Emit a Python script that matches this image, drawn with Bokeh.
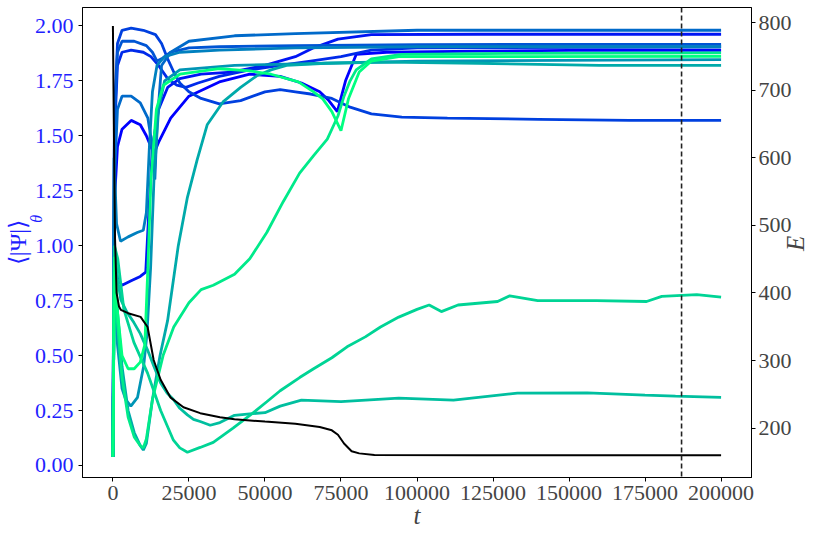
import math
from bokeh.plotting import figure
from bokeh.models import Range1d, LinearAxis, FixedTicker, NumeralTickFormatter, Span
from bokeh.embed import file_html
from bokeh.resources import INLINE

# ---------------- data ----------------
x_ticks = [0, 25000, 50000, 75000, 100000, 125000, 150000, 175000, 200000]
psi_ticks = [0.0, 0.25, 0.5, 0.75, 1.0, 1.25, 1.5, 1.75, 2.0]
e_ticks = [200, 300, 400, 500, 600, 700, 800]
t_marker = 187000

# 13 runs, coloured blue -> green (winter)
t_r0 = [0, 500, 1500, 3000, 6000, 9000, 11000, 12500, 13500, 15000, 19000, 25000, 35000, 45000, 55000, 62000, 68000, 71000, 73800, 76500, 80000, 90000, 120000, 160000, 200000]
psi_r0 = [0.04, 1.20, 1.45, 1.53, 1.57, 1.55, 1.50, 1.45, 1.42, 1.47, 1.58, 1.68, 1.745, 1.78, 1.77, 1.74, 1.70, 1.66, 1.61, 1.75, 1.87, 1.88, 1.885, 1.89, 1.889]

t_r1 = [0, 500, 1500, 3000, 6000, 9000, 10800, 11800, 13000, 15000, 18000, 22000, 29000, 39000, 50000, 60000, 66000, 74000, 85000, 120000, 200000]
psi_r1 = [0.04, 0.95, 0.85, 0.82, 0.84, 0.86, 0.88, 1.15, 1.45, 1.62, 1.72, 1.76, 1.78, 1.79, 1.82, 1.86, 1.90, 1.94, 1.96, 1.962, 1.962]

t_r2 = [0, 500, 1500, 3000, 6000, 10000, 12500, 15000, 18000, 21000, 24000, 28000, 35000, 45000, 55000, 65000, 75000, 85000, 100000, 200000]
psi_r2 = [0.04, 1.50, 1.82, 1.88, 1.89, 1.88, 1.86, 1.82, 1.76, 1.73, 1.72, 1.74, 1.77, 1.80, 1.82, 1.84, 1.86, 1.89, 1.90, 1.904]

t_r3 = [0, 500, 1500, 3000, 6000, 10000, 14000, 16000, 18000, 20000, 22000, 25000, 29000, 35000, 42000, 50000, 55000, 60000, 65000, 72000, 78000, 85000, 95000, 110000, 140000, 170000, 200000]
psi_r3 = [0.04, 1.60, 1.92, 1.98, 1.99, 1.98, 1.96, 1.92, 1.85, 1.79, 1.74, 1.70, 1.67, 1.645, 1.66, 1.70, 1.71, 1.70, 1.69, 1.67, 1.63, 1.60, 1.585, 1.58, 1.575, 1.57, 1.57]

t_r4 = [0, 500, 1500, 3000, 7000, 11000, 13000, 14500, 16000, 19000, 25000, 35000, 60000, 100000, 200000]
psi_r4 = [0.04, 1.55, 1.88, 1.93, 1.93, 1.91, 1.88, 1.84, 1.85, 1.88, 1.90, 1.905, 1.91, 1.915, 1.916]

t_r5 = [0, 500, 1500, 3000, 6000, 9000, 11500, 13000, 13800, 14500, 16000, 19000, 25000, 40000, 60000, 100000, 200000]
psi_r5 = [0.04, 1.30, 1.62, 1.68, 1.68, 1.65, 1.58, 1.45, 1.30, 1.55, 1.82, 1.88, 1.93, 1.955, 1.965, 1.98, 1.98]

t_r6 = [0, 400, 1200, 2500, 5000, 8000, 10000, 11000, 12000, 13000, 14500, 17000, 22000, 35000, 60000, 100000, 200000]
psi_r6 = [0.04, 1.40, 1.10, 1.02, 1.04, 1.06, 1.07, 1.15, 1.45, 1.70, 1.82, 1.86, 1.88, 1.89, 1.90, 1.905, 1.905]

t_r7 = [0, 500, 1500, 3000, 4200, 5900, 8100, 10100, 11200, 12400, 13500, 15000, 17000, 22000, 40000, 70000, 100000, 200000]
psi_r7 = [0.04, 0.95, 0.55, 0.35, 0.30, 0.27, 0.31, 0.45, 0.60, 0.90, 1.30, 1.62, 1.75, 1.80, 1.82, 1.83, 1.84, 1.846]

t_r8 = [0, 500, 1500, 3000, 5000, 7000, 9000, 10000, 11000, 13000, 15500, 18000, 21500, 24500, 27700, 31000, 36200, 42000, 47300, 52000, 57100, 70000, 90000, 120000, 160000, 200000]
psi_r8 = [0.04, 0.95, 0.70, 0.45, 0.25, 0.15, 0.09, 0.07, 0.10, 0.30, 0.50, 0.66, 1.00, 1.22, 1.39, 1.55, 1.654, 1.72, 1.773, 1.80, 1.82, 1.83, 1.835, 1.83, 1.82, 1.82]

t_r9 = [0, 500, 1500, 2600, 4500, 6900, 9000, 11400, 13500, 15700, 17800, 19900, 22000, 24500, 26500, 28700, 32000, 35200, 40000, 45000, 50000, 55000, 62000, 75000, 94000, 112000, 133000, 156000, 175000, 185000, 200000]
psi_r9 = [0.04, 1.00, 0.85, 0.754, 0.70, 0.65, 0.60, 0.525, 0.45, 0.375, 0.33, 0.30, 0.26, 0.23, 0.21, 0.20, 0.183, 0.195, 0.228, 0.235, 0.24, 0.27, 0.297, 0.29, 0.306, 0.297, 0.329, 0.33, 0.32, 0.315, 0.31]

t_r10 = [0, 500, 1600, 3600, 6900, 11400, 15700, 19900, 22000, 24500, 28700, 33000, 39500, 46000, 50600, 55000, 61400, 66000, 72000, 77000, 83000, 88000, 94000, 100000, 104000, 108000, 113500, 126500, 130500, 139700, 159000, 175500, 180500, 192000, 200000]
psi_r10 = [0.04, 1.00, 0.94, 0.71, 0.56, 0.42, 0.25, 0.115, 0.08, 0.06, 0.082, 0.105, 0.17, 0.238, 0.29, 0.34, 0.40, 0.44, 0.49, 0.54, 0.585, 0.63, 0.675, 0.71, 0.73, 0.70, 0.73, 0.746, 0.772, 0.75, 0.75, 0.746, 0.769, 0.777, 0.766]

t_r11 = [0, 500, 1500, 3000, 5000, 7000, 9000, 10000, 11000, 13000, 16500, 20000, 25000, 29000, 33000, 40000, 45000, 50600, 56000, 61400, 66000, 70500, 74000, 76000, 78000, 80000, 85000, 95000, 130000, 200000]
psi_r11 = [0.04, 0.90, 0.65, 0.40, 0.22, 0.13, 0.09, 0.08, 0.12, 0.30, 0.50, 0.63, 0.74, 0.80, 0.82, 0.87, 0.94, 1.06, 1.20, 1.33, 1.41, 1.485, 1.59, 1.68, 1.75, 1.80, 1.85, 1.87, 1.875, 1.877]

t_r12 = [0, 500, 1500, 3000, 5000, 7000, 9000, 10500, 11500, 12500, 14300, 16600, 22000, 35000, 45000, 52000, 61000, 66000, 69000, 72000, 75000, 77500, 81000, 85000, 94000, 130000, 200000]
psi_r12 = [0.04, 0.95, 0.70, 0.50, 0.44, 0.44, 0.47, 0.55, 0.90, 1.30, 1.62, 1.73, 1.78, 1.805, 1.795, 1.78, 1.745, 1.70, 1.668, 1.61, 1.523, 1.67, 1.79, 1.84, 1.86, 1.86, 1.861]

# energy (right axis)
t_energy = [0, 300, 700, 1200, 2000, 2600, 5000, 9100, 11400, 13400, 15700, 18900, 23200, 28700, 35200, 40000, 50000, 60000, 68000, 72000, 74000, 76000, 78500, 81000, 86000, 120000, 160000, 200000]
energy = [795, 650, 480, 400, 380, 375, 370, 364.5, 349.6, 300.8, 271.5, 245.5, 230.9, 222.1, 215.9, 213, 209.7, 206.5, 201.6, 196.7, 190.2, 177.2, 165.8, 162.6, 160.3, 160, 160, 160]

# axis titles
x_title = "t"
psi_title = "⟨|Ψ|⟩"
psi_sub = "θ"
e_title = "E"

runs_t = [t_r0, t_r1, t_r2, t_r3, t_r4, t_r5, t_r6, t_r7, t_r8, t_r9, t_r10, t_r11, t_r12]
runs_psi = [psi_r0, psi_r1, psi_r2, psi_r3, psi_r4, psi_r5, psi_r6, psi_r7, psi_r8, psi_r9, psi_r10, psi_r11, psi_r12]


def winter(c):
    return "#%02x%02x%02x" % (0, int(round(255 * c)), int(round(255 * (1 - 0.5 * c))))


FONT = "Liberation Serif"
BLUE = "#1f1fff"

p = figure(width=825, height=537, output_backend="svg", toolbar_location=None,
           x_range=Range1d(-10000, 210000), y_range=Range1d(-0.0548, 2.0836),
           min_border_left=82, min_border_right=71, min_border_top=7, min_border_bottom=60)
p.extra_y_ranges = {"E": Range1d(126.9, 822.3)}
p.background_fill_color = "white"
p.border_fill_color = "white"
p.outline_line_color = "black"
p.outline_line_width = 1
p.outline_line_alpha = 1
p.xgrid.visible = False
p.ygrid.visible = False

n = len(runs_t)
for i in range(n):
    p.line(runs_t[i], runs_psi[i], line_color=winter(i / (n - 1)), line_width=2.8)

p.line(t_energy, energy, y_range_name="E", line_color="black", line_width=2)

p.add_layout(Span(location=t_marker, dimension="height", line_color="#222222",
                  line_dash="5 3", line_width=1.6))

# ---- axes ----
xa = p.xaxis[0]
xa.ticker = FixedTicker(ticks=x_ticks)
xa.formatter = NumeralTickFormatter(format="0")
xa.axis_label = x_title
xa.axis_label_text_font_style = "italic"

ya = p.yaxis[0]
ya.ticker = FixedTicker(ticks=psi_ticks)
ya.formatter = NumeralTickFormatter(format="0.00")
ya.major_label_text_color = BLUE

ea = LinearAxis(y_range_name="E", ticker=FixedTicker(ticks=e_ticks))
p.add_layout(ea, "right")

for ax in (xa, ya, ea):
    ax.major_label_text_font = FONT
    ax.major_label_text_font_size = "22px"
    ax.axis_label_text_font = FONT
    ax.axis_label_text_font_size = "25px"
    ax.major_tick_in = 0
    ax.major_tick_out = 4
    ax.minor_tick_in = 0
    ax.minor_tick_out = 0
    ax.major_label_standoff = 5
    ax.axis_line_color = "black"
    ax.major_tick_line_color = "black"
xa.major_label_standoff = 4
xa.axis_label_standoff = -1
ea.major_label_standoff = 3

# outer left axis: carries the title and its subscript (as a rotated tick label)
theta_pos = 1.14
ya2 = LinearAxis(ticker=FixedTicker(ticks=[theta_pos]),
                 major_label_overrides={theta_pos: psi_sub})
ya2.major_label_orientation = math.pi / 2
ya2.major_label_text_font = FONT
ya2.major_label_text_font_size = "16px"
ya2.major_label_text_font_style = "italic"
ya2.major_label_text_color = BLUE
ya2.major_label_standoff = -5
ya2.major_tick_out = 0
ya2.major_tick_in = 0
ya2.minor_tick_out = 0
ya2.minor_tick_in = 0
ya2.axis_line_color = None
ya2.axis_label = psi_title
ya2.axis_label_text_font = FONT
ya2.axis_label_text_font_size = "24px"
ya2.axis_label_text_font_style = "normal"
ya2.axis_label_text_color = BLUE
ya2.axis_label_standoff = -14
p.add_layout(ya2, "left")

# outer right axis: the E title, rotated to read upward
e_pos = 462
ea2 = LinearAxis(y_range_name="E", ticker=FixedTicker(ticks=[e_pos]),
                 major_label_overrides={e_pos: e_title})
ea2.major_label_orientation = math.pi / 2
ea2.major_label_text_font = FONT
ea2.major_label_text_font_size = "25px"
ea2.major_label_text_font_style = "italic"
ea2.major_label_standoff = 1
ea2.major_tick_out = 0
ea2.major_tick_in = 0
ea2.minor_tick_out = 0
ea2.minor_tick_in = 0
ea2.axis_line_color = None
p.add_layout(ea2, "right")

open("out.html", "w").write(file_html(p, INLINE))
